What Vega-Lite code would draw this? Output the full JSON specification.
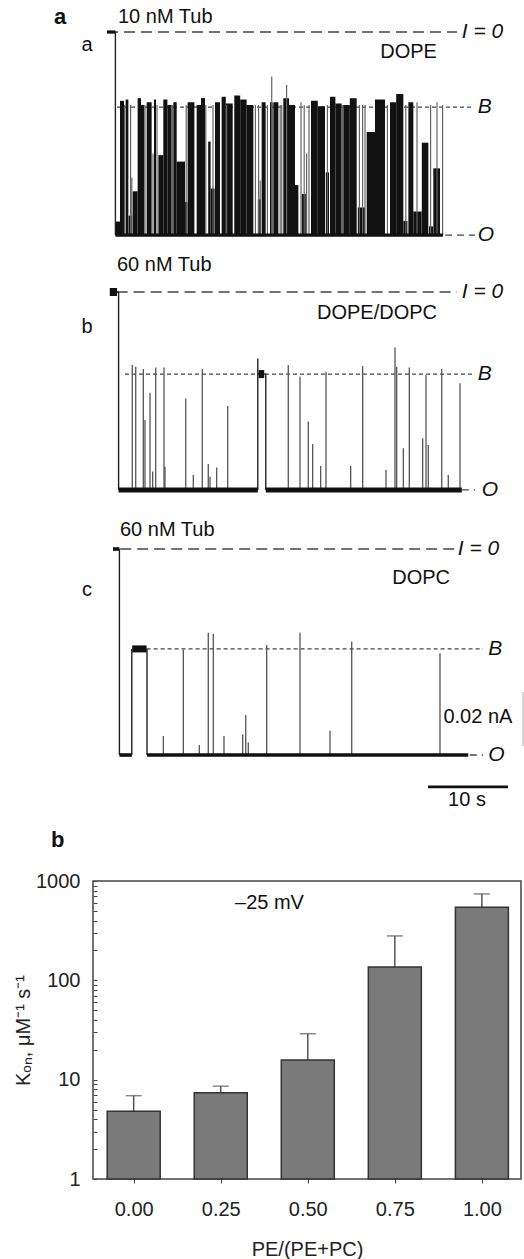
{
"$schema": "https://vega.github.io/schema/vega-lite/v6.json",
"background": "white",
"padding": 0,
"config": {"font": "Liberation Sans", "view": {"stroke": null}},
"spacing": 0,
"bounds": "flush",
"datasets": {
"refs": [
{"tr":"A","k":"I0","t1":-0.75,"t2":43,"v":0},
{"tr":"A","k":"B","t1":0.5,"t2":45,"v":-27.8},
{"tr":"A","k":"O","t1":41.5,"t2":45.25,"v":-75.2},
{"tr":"B","k":"I0","t1":0.45,"t2":43,"v":0},
{"tr":"B","k":"B","t1":1.5,"t2":45.25,"v":-30.4},
{"tr":"B","k":"O","t1":43.6,"t2":45.25,"v":-73.3},
{"tr":"C","k":"I0","t1":0.9,"t2":43,"v":0},
{"tr":"C","k":"B","t1":4.2,"t2":46.25,"v":-37},
{"tr":"C","k":"O","t1":44.6,"t2":46.25,"v":-76.3}
],
"blk": [
{"t1":0.375,"t2":0.875,"top":-70.2},{"t1":0.875,"t2":1.375,"top":-25.5},{"t1":1.58,"t2":1.92,"top":-25},
{"t1":1.95,"t2":2.4,"top":-68},
{"t1":2.46,"t2":3.08,"top":-59},{"t1":3.08,"t2":3.5,"top":-24.5},{"t1":3.5,"t2":3.92,"top":-27},{"t1":4.21,"t2":4.83,"top":-26},
{"t1":5.125,"t2":5.375,"top":-25},{"t1":5.67,"t2":6.29,"top":-45.6},{"t1":6.29,"t2":6.8,"top":-25},{"t1":6.8,"t2":7.33,"top":-27},
{"t1":7.54,"t2":7.96,"top":-26},{"t1":7.96,"t2":9.0,"top":-48},{"t1":9.0,"t2":9.3,"top":-63},{"t1":9.33,"t2":10.17,"top":-26},
{"t1":10.46,"t2":11.0,"top":-27},{"t1":11.0,"t2":11.5,"top":-24.5},{"t1":11.9,"t2":12.2,"top":-40.6},{"t1":12.2,"t2":12.7,"top":-58},{"t1":12.75,"t2":13.375,"top":-26},
{"t1":13.58,"t2":14.1,"top":-24},{"t1":14.1,"t2":14.96,"top":-26.5},
{"t1":15.16,"t2":15.9,"top":-23.5},{"t1":15.9,"t2":16.7,"top":-25},{"t1":16.7,"t2":17.54,"top":-27},
{"t1":18.1,"t2":18.5,"top":-62},{"t1":18.58,"t2":19.08,"top":-26},
{"t1":19.625,"t2":19.95,"top":-26},{"t1":20.04,"t2":20.67,"top":-26},{"t1":21.29,"t2":22.0,"top":-24.5},{"t1":22.0,"t2":22.75,"top":-27},
{"t1":22.75,"t2":23.17,"top":-56.7},{"t1":23.6,"t2":24.1,"top":-60},{"t1":24.75,"t2":25.6,"top":-25.5},{"t1":25.6,"t2":26.5,"top":-27.5},
{"t1":26.6,"t2":27.0,"top":-52},{"t1":27.125,"t2":27.8,"top":-24},{"t1":27.8,"t2":28.58,"top":-26.5},
{"t1":28.79,"t2":29.6,"top":-27},{"t1":29.6,"t2":30.46,"top":-24.5},{"t1":30.6,"t2":31.5,"top":-65},
{"t1":31.71,"t2":32.75,"top":-37},{"t1":32.75,"t2":34.0,"top":-25},
{"t1":34.625,"t2":35.4,"top":-26},{"t1":35.4,"t2":36.29,"top":-23},{"t1":36.3,"t2":36.8,"top":-70},{"t1":36.92,"t2":37.54,"top":-26},{"t1":37.54,"t2":38.58,"top":-66.5},
{"t1":38.6,"t2":39.42,"top":-41},{"t1":39.5,"t2":40.0,"top":-72},{"t1":40.04,"t2":40.875,"top":-50.5}
],
"spk": [
{"tr":"A","t":1.45,"top":-27},{"tr":"A","t":2.2,"top":-27},{"tr":"A","t":2.35,"top":-54},{"tr":"A","t":4.0,"top":-27},
{"tr":"A","t":5.0,"top":-45},{"tr":"A","t":5.5,"top":-27},{"tr":"A","t":7.45,"top":-27},{"tr":"A","t":9.15,"top":-27},
{"tr":"A","t":11.6,"top":-27},{"tr":"A","t":12.5,"top":-27},{"tr":"A","t":14.2,"top":-27},{"tr":"A","t":17.8,"top":-27},
{"tr":"A","t":18.2,"top":-27},{"tr":"A","t":18.4,"top":-55},{"tr":"A","t":19.3,"top":-27},{"tr":"A","t":19.84,"top":-16.5},
{"tr":"A","t":20.9,"top":-27},{"tr":"A","t":21.1,"top":-27},{"tr":"A","t":21.7,"top":-19.6},{"tr":"A","t":23.5,"top":-26},
{"tr":"A","t":23.9,"top":-27},{"tr":"A","t":24.2,"top":-45},{"tr":"A","t":24.5,"top":-27},{"tr":"A","t":26.8,"top":-27},
{"tr":"A","t":28.7,"top":-27},{"tr":"A","t":30.8,"top":-27},{"tr":"A","t":31.2,"top":-27},{"tr":"A","t":31.5,"top":-27},
{"tr":"A","t":34.3,"top":-27},{"tr":"A","t":36.6,"top":-27},{"tr":"A","t":38.0,"top":-26},{"tr":"A","t":39.7,"top":-27},
{"tr":"A","t":40.5,"top":-26},{"tr":"A","t":41.2,"top":-27},
{"tr":"B","t":2.41,"top":-27.0},{"tr":"B","t":2.84,"top":-27.7},{"tr":"B","t":3.79,"top":-28.5},{"tr":"B","t":4.0,"top":-47.4},
{"tr":"B","t":4.625,"top":-37.3},{"tr":"B","t":4.96,"top":-66.5},{"tr":"B","t":5.34,"top":-28.0},{"tr":"B","t":6.375,"top":-28.0},
{"tr":"B","t":6.5,"top":-64.7},{"tr":"B","t":9.09,"top":-39.4},{"tr":"B","t":10.04,"top":-67.8},{"tr":"B","t":11.16,"top":-28.5},
{"tr":"B","t":11.91,"top":-63.7},{"tr":"B","t":12.125,"top":-68.4},{"tr":"B","t":12.96,"top":-65},{"tr":"B","t":14.34,"top":-42.2},
{"tr":"B","t":21.91,"top":-27},{"tr":"B","t":23.375,"top":-31.4},{"tr":"B","t":24.41,"top":-48},{"tr":"B","t":24.96,"top":-56.3},
{"tr":"B","t":25.96,"top":-64.4},{"tr":"B","t":26.625,"top":-29.5},{"tr":"B","t":29.71,"top":-64.4},{"tr":"B","t":31.21,"top":-27.4},
{"tr":"B","t":34.125,"top":-65.9},{"tr":"B","t":35.25,"top":-20.6},{"tr":"B","t":35.46,"top":-27.7},{"tr":"B","t":36.29,"top":-57.9},
{"tr":"B","t":37.04,"top":-28},{"tr":"B","t":38.71,"top":-54.2},{"tr":"B","t":39.125,"top":-30.7},{"tr":"B","t":39.41,"top":-56.7},
{"tr":"B","t":41.09,"top":-28.5},{"tr":"B","t":41.91,"top":-67.8},{"tr":"B","t":43.375,"top":-33.8},
{"tr":"C","t":6.29,"top":-69.3},{"tr":"C","t":8.79,"top":-37.2},{"tr":"C","t":10.79,"top":-72.6},{"tr":"C","t":11.91,"top":-31.0},
{"tr":"C","t":12.54,"top":-31.4},{"tr":"C","t":13.875,"top":-69.3},{"tr":"C","t":16.21,"top":-68.7},{"tr":"C","t":16.59,"top":-61.5},
{"tr":"C","t":16.91,"top":-71.7},{"tr":"C","t":19.21,"top":-35.6},{"tr":"C","t":23.375,"top":-31.0},{"tr":"C","t":27.125,"top":-67.3},
{"tr":"C","t":29.84,"top":-34.3},{"tr":"C","t":40.875,"top":-38.6}
],
"segs": [
{"tr":"A","k":"base","t1":-0.75,"t2":0.3,"v1":0,"v2":0},
{"tr":"A","k":"thin","t1":0.3,"t2":0.3,"v1":0,"v2":-75.2},
{"tr":"A","k":"base","t1":0.3,"t2":41.25,"v1":-75.2,"v2":-75.2},
{"tr":"B","k":"blob","t1":-0.4,"t2":0.5,"v1":0,"v2":0},
{"tr":"B","k":"thin","t1":0.5,"t2":0.7,"v1":0,"v2":0},
{"tr":"B","k":"thin","t1":0.7,"t2":0.7,"v1":0,"v2":-73.3},
{"tr":"B","k":"base","t1":0.7,"t2":18.1,"v1":-73.3,"v2":-73.3},
{"tr":"B","k":"thin","t1":18.1,"t2":18.1,"v1":-73.3,"v2":-24.6},
{"tr":"B","k":"thin","t1":18.1,"t2":19.1,"v1":-30.4,"v2":-30.4},
{"tr":"B","k":"blob","t1":18.2,"t2":18.9,"v1":-30.4,"v2":-30.4},
{"tr":"B","k":"thin","t1":19.1,"t2":19.1,"v1":-30.4,"v2":-73.3},
{"tr":"B","k":"base","t1":19.1,"t2":43.6,"v1":-73.3,"v2":-73.3},
{"tr":"C","k":"base","t1":0,"t2":0.8,"v1":0,"v2":0},
{"tr":"C","k":"thin","t1":0.8,"t2":0.8,"v1":0,"v2":-76.3},
{"tr":"C","k":"base","t1":0.8,"t2":2.35,"v1":-76.3,"v2":-76.3},
{"tr":"C","k":"thin","t1":2.35,"t2":2.35,"v1":-76.3,"v2":-37},
{"tr":"C","k":"blob","t1":2.4,"t2":4.2,"v1":-37,"v2":-37},
{"tr":"C","k":"thin","t1":4.25,"t2":4.25,"v1":-37,"v2":-76.3},
{"tr":"C","k":"base","t1":4.25,"t2":44.4,"v1":-76.3,"v2":-76.3},
{"tr":"C","k":"bar","t1":39.375,"t2":49.375,"v1":-88.1,"v2":-88.1},
{"tr":"C","k":"faint","t1":51.25,"t2":51.25,"v1":-53,"v2":-73}
],
"notes": [
{"tr":"A","role":"panel","t":-6.6,"v":5.7,"txt":"a"},
{"tr":"A","role":"small","t":-3.25,"v":-4.8,"txt":"a"},
{"tr":"A","role":"note","t":0.625,"v":5.6,"txt":"10 nM Tub"},
{"tr":"A","role":"note","t":33.4,"v":-7.4,"txt":"DOPE"},
{"tr":"A","role":"lvl","t":43.6,"v":0,"txt":"I = 0"},
{"tr":"A","role":"lvl","t":45.6,"v":-27.8,"txt":"B"},
{"tr":"A","role":"lvl","t":45.6,"v":-75.2,"txt":"O"},
{"tr":"B","role":"small","t":-3.25,"v":-13.0,"txt":"b"},
{"tr":"B","role":"note","t":0.5,"v":10,"txt":"60 nM Tub"},
{"tr":"B","role":"note","t":25.5,"v":-7.8,"txt":"DOPE/DOPC"},
{"tr":"B","role":"lvl","t":43.6,"v":0,"txt":"I = 0"},
{"tr":"B","role":"lvl","t":45.6,"v":-30.4,"txt":"B"},
{"tr":"B","role":"lvl","t":46.1,"v":-73.3,"txt":"O"},
{"tr":"C","role":"small","t":-3.25,"v":-15.2,"txt":"c"},
{"tr":"C","role":"note","t":0.875,"v":7.0,"txt":"60 nM Tub"},
{"tr":"C","role":"note","t":34.9,"v":-10.7,"txt":"DOPC"},
{"tr":"C","role":"lvl","t":43.1,"v":0,"txt":"I = 0"},
{"tr":"C","role":"lvl","t":46.9,"v":-37,"txt":"B"},
{"tr":"C","role":"lvl","t":46.9,"v":-76.3,"txt":"O"},
{"tr":"C","role":"note","t":41.3,"v":-62.1,"txt":"0.02 nA"},
{"tr":"C","role":"small","t":44.25,"v":-93.0,"txt":"10 s"},
{"tr":"C","role":"panel","t":-6.9,"v":-107.8,"txt":"b"}
],
"kon": [
{"pe":0,"k":4.8,"err":6.9},
{"pe":0.25,"k":7.4,"err":8.6},
{"pe":0.5,"k":15.8,"err":29},
{"pe":0.75,"k":136,"err":280},
{"pe":1,"k":545,"err":741}
],
"konnote": [{"pe":0.39,"k":600,"txt":"–25 mV"}]
},
"vconcat": [
{
"width": 524, "height": 255, "view": {"stroke": null},
"layer": [
{"data":{"name":"refs"},"transform":[{"filter":"datum.tr=='A'"}],"mark":{"type":"rule","color":"#444","strokeWidth":1.3},
"encoding":{"x":{"field":"t1","type":"quantitative","scale":{"domain":[-14.125,51.375],"nice":false,"zero":false},"axis":null},"x2":{"field":"t2"},
"y":{"field":"v","type":"quantitative","scale":{"domain":[-82.593,11.852],"nice":false,"zero":false},"axis":null},
"strokeDash":{"field":"k","type":"nominal","scale":{"domain":["I0","B","O"],"range":[[11,6],[4,3],[7,5]]},"legend":null}}},
{"data":{"name":"blk"},"mark":{"type":"rect","color":"#111"},
"encoding":{"x":{"field":"t1","type":"quantitative","scale":{"domain":[-14.125,51.375],"nice":false,"zero":false},"axis":null},"x2":{"field":"t2"},
"y":{"field":"top","type":"quantitative","scale":{"domain":[-82.593,11.852],"nice":false,"zero":false},"axis":null},"y2":{"datum":-75.2}}},
{"data":{"name":"spk"},"transform":[{"filter":"datum.tr=='A'"}],"mark":{"type":"rule","color":"#666","strokeWidth":1.2},
"encoding":{"x":{"field":"t","type":"quantitative","scale":{"domain":[-14.125,51.375],"nice":false,"zero":false},"axis":null},
"y":{"field":"top","type":"quantitative","scale":{"domain":[-82.593,11.852],"nice":false,"zero":false},"axis":null},"y2":{"datum":-75.2}}},
{"data":{"name":"segs"},"transform":[{"filter":"datum.tr=='A' && datum.k=='thin'"}],"mark":{"type":"rule","color":"#222","strokeWidth":1.4},
"encoding":{"x":{"field":"t1","type":"quantitative","scale":{"domain":[-14.125,51.375],"nice":false,"zero":false},"axis":null},"x2":{"field":"t2"},
"y":{"field":"v1","type":"quantitative","scale":{"domain":[-82.593,11.852],"nice":false,"zero":false},"axis":null},"y2":{"field":"v2"}}},
{"data":{"name":"segs"},"transform":[{"filter":"datum.tr=='A' && datum.k=='base'"}],"mark":{"type":"rule","color":"#111","strokeWidth":3.2},
"encoding":{"x":{"field":"t1","type":"quantitative","scale":{"domain":[-14.125,51.375],"nice":false,"zero":false},"axis":null},"x2":{"field":"t2"},
"y":{"field":"v1","type":"quantitative","scale":{"domain":[-82.593,11.852],"nice":false,"zero":false},"axis":null},"y2":{"field":"v2"}}},
{"data":{"name":"notes"},"transform":[{"filter":"datum.tr=='A' && datum.role=='note'"}],"mark":{"type":"text","align":"left","baseline":"middle","fontSize":20,"color":"#111"},
"encoding":{"x":{"field":"t","type":"quantitative","scale":{"domain":[-14.125,51.375],"nice":false,"zero":false},"axis":null},
"y":{"field":"v","type":"quantitative","scale":{"domain":[-82.593,11.852],"nice":false,"zero":false},"axis":null},"text":{"field":"txt"}}},
{"data":{"name":"notes"},"transform":[{"filter":"datum.tr=='A' && datum.role=='small'"}],"mark":{"type":"text","align":"center","baseline":"middle","fontSize":20,"color":"#111"},
"encoding":{"x":{"field":"t","type":"quantitative","scale":{"domain":[-14.125,51.375],"nice":false,"zero":false},"axis":null},
"y":{"field":"v","type":"quantitative","scale":{"domain":[-82.593,11.852],"nice":false,"zero":false},"axis":null},"text":{"field":"txt"}}},
{"data":{"name":"notes"},"transform":[{"filter":"datum.tr=='A' && datum.role=='lvl'"}],"mark":{"type":"text","align":"left","baseline":"middle","fontSize":21,"fontStyle":"italic","color":"#111"},
"encoding":{"x":{"field":"t","type":"quantitative","scale":{"domain":[-14.125,51.375],"nice":false,"zero":false},"axis":null},
"y":{"field":"v","type":"quantitative","scale":{"domain":[-82.593,11.852],"nice":false,"zero":false},"axis":null},"text":{"field":"txt"}}},
{"data":{"name":"notes"},"transform":[{"filter":"datum.tr=='A' && datum.role=='panel'"}],"mark":{"type":"text","align":"center","baseline":"middle","fontSize":22,"fontWeight":"bold","color":"#111"},
"encoding":{"x":{"field":"t","type":"quantitative","scale":{"domain":[-14.125,51.375],"nice":false,"zero":false},"axis":null},
"y":{"field":"v","type":"quantitative","scale":{"domain":[-82.593,11.852],"nice":false,"zero":false},"axis":null},"text":{"field":"txt"}}}
]
},
{
"width": 524, "height": 260, "view": {"stroke": null},
"layer": [
{"data":{"name":"refs"},"transform":[{"filter":"datum.tr=='B'"}],"mark":{"type":"rule","color":"#444","strokeWidth":1.3},
"encoding":{"x":{"field":"t1","type":"quantitative","scale":{"domain":[-14.125,51.375],"nice":false,"zero":false},"axis":null},"x2":{"field":"t2"},
"y":{"field":"v","type":"quantitative","scale":{"domain":[-82.593,13.704],"nice":false,"zero":false},"axis":null},
"strokeDash":{"field":"k","type":"nominal","scale":{"domain":["I0","B","O"],"range":[[11,6],[4,3],[7,5]]},"legend":null}}},
{"data":{"name":"spk"},"transform":[{"filter":"datum.tr=='B'"}],"mark":{"type":"rule","color":"#555","strokeWidth":1.3},
"encoding":{"x":{"field":"t","type":"quantitative","scale":{"domain":[-14.125,51.375],"nice":false,"zero":false},"axis":null},
"y":{"field":"top","type":"quantitative","scale":{"domain":[-82.593,13.704],"nice":false,"zero":false},"axis":null},"y2":{"datum":-73.3}}},
{"data":{"name":"segs"},"transform":[{"filter":"datum.tr=='B' && datum.k=='thin'"}],"mark":{"type":"rule","color":"#222","strokeWidth":1.4},
"encoding":{"x":{"field":"t1","type":"quantitative","scale":{"domain":[-14.125,51.375],"nice":false,"zero":false},"axis":null},"x2":{"field":"t2"},
"y":{"field":"v1","type":"quantitative","scale":{"domain":[-82.593,13.704],"nice":false,"zero":false},"axis":null},"y2":{"field":"v2"}}},
{"data":{"name":"segs"},"transform":[{"filter":"datum.tr=='B' && datum.k=='base'"}],"mark":{"type":"rule","color":"#111","strokeWidth":5},
"encoding":{"x":{"field":"t1","type":"quantitative","scale":{"domain":[-14.125,51.375],"nice":false,"zero":false},"axis":null},"x2":{"field":"t2"},
"y":{"field":"v1","type":"quantitative","scale":{"domain":[-82.593,13.704],"nice":false,"zero":false},"axis":null},"y2":{"field":"v2"}}},
{"data":{"name":"segs"},"transform":[{"filter":"datum.tr=='B' && datum.k=='blob'"}],"mark":{"type":"rule","color":"#111","strokeWidth":8},
"encoding":{"x":{"field":"t1","type":"quantitative","scale":{"domain":[-14.125,51.375],"nice":false,"zero":false},"axis":null},"x2":{"field":"t2"},
"y":{"field":"v1","type":"quantitative","scale":{"domain":[-82.593,13.704],"nice":false,"zero":false},"axis":null},"y2":{"field":"v2"}}},
{"data":{"name":"notes"},"transform":[{"filter":"datum.tr=='B' && datum.role=='note'"}],"mark":{"type":"text","align":"left","baseline":"middle","fontSize":20,"color":"#111"},
"encoding":{"x":{"field":"t","type":"quantitative","scale":{"domain":[-14.125,51.375],"nice":false,"zero":false},"axis":null},
"y":{"field":"v","type":"quantitative","scale":{"domain":[-82.593,13.704],"nice":false,"zero":false},"axis":null},"text":{"field":"txt"}}},
{"data":{"name":"notes"},"transform":[{"filter":"datum.tr=='B' && datum.role=='small'"}],"mark":{"type":"text","align":"center","baseline":"middle","fontSize":20,"color":"#111"},
"encoding":{"x":{"field":"t","type":"quantitative","scale":{"domain":[-14.125,51.375],"nice":false,"zero":false},"axis":null},
"y":{"field":"v","type":"quantitative","scale":{"domain":[-82.593,13.704],"nice":false,"zero":false},"axis":null},"text":{"field":"txt"}}},
{"data":{"name":"notes"},"transform":[{"filter":"datum.tr=='B' && datum.role=='lvl'"}],"mark":{"type":"text","align":"left","baseline":"middle","fontSize":21,"fontStyle":"italic","color":"#111"},
"encoding":{"x":{"field":"t","type":"quantitative","scale":{"domain":[-14.125,51.375],"nice":false,"zero":false},"axis":null},
"y":{"field":"v","type":"quantitative","scale":{"domain":[-82.593,13.704],"nice":false,"zero":false},"axis":null},"text":{"field":"txt"}}}
]
},
{
"width": 524, "height": 366, "view": {"stroke": null},
"layer": [
{"data":{"name":"refs"},"transform":[{"filter":"datum.tr=='C'"}],"mark":{"type":"rule","color":"#444","strokeWidth":1.3},
"encoding":{"x":{"field":"t1","type":"quantitative","scale":{"domain":[-14.125,51.375],"nice":false,"zero":false},"axis":null},"x2":{"field":"t2"},
"y":{"field":"v","type":"quantitative","scale":{"domain":[-122.963,12.593],"nice":false,"zero":false},"axis":null},
"strokeDash":{"field":"k","type":"nominal","scale":{"domain":["I0","B","O"],"range":[[11,6],[4,3],[7,5]]},"legend":null}}},
{"data":{"name":"spk"},"transform":[{"filter":"datum.tr=='C'"}],"mark":{"type":"rule","color":"#555","strokeWidth":1.3},
"encoding":{"x":{"field":"t","type":"quantitative","scale":{"domain":[-14.125,51.375],"nice":false,"zero":false},"axis":null},
"y":{"field":"top","type":"quantitative","scale":{"domain":[-122.963,12.593],"nice":false,"zero":false},"axis":null},"y2":{"datum":-76.3}}},
{"data":{"name":"segs"},"transform":[{"filter":"datum.tr=='C' && datum.k=='thin'"}],"mark":{"type":"rule","color":"#222","strokeWidth":1.4},
"encoding":{"x":{"field":"t1","type":"quantitative","scale":{"domain":[-14.125,51.375],"nice":false,"zero":false},"axis":null},"x2":{"field":"t2"},
"y":{"field":"v1","type":"quantitative","scale":{"domain":[-122.963,12.593],"nice":false,"zero":false},"axis":null},"y2":{"field":"v2"}}},
{"data":{"name":"segs"},"transform":[{"filter":"datum.tr=='C' && datum.k=='base'"}],"mark":{"type":"rule","color":"#111","strokeWidth":3.6},
"encoding":{"x":{"field":"t1","type":"quantitative","scale":{"domain":[-14.125,51.375],"nice":false,"zero":false},"axis":null},"x2":{"field":"t2"},
"y":{"field":"v1","type":"quantitative","scale":{"domain":[-122.963,12.593],"nice":false,"zero":false},"axis":null},"y2":{"field":"v2"}}},
{"data":{"name":"segs"},"transform":[{"filter":"datum.tr=='C' && datum.k=='blob'"}],"mark":{"type":"rule","color":"#111","strokeWidth":7},
"encoding":{"x":{"field":"t1","type":"quantitative","scale":{"domain":[-14.125,51.375],"nice":false,"zero":false},"axis":null},"x2":{"field":"t2"},
"y":{"field":"v1","type":"quantitative","scale":{"domain":[-122.963,12.593],"nice":false,"zero":false},"axis":null},"y2":{"field":"v2"}}},
{"data":{"name":"segs"},"transform":[{"filter":"datum.tr=='C' && datum.k=='bar'"}],"mark":{"type":"rule","color":"#111","strokeWidth":2.6},
"encoding":{"x":{"field":"t1","type":"quantitative","scale":{"domain":[-14.125,51.375],"nice":false,"zero":false},"axis":null},"x2":{"field":"t2"},
"y":{"field":"v1","type":"quantitative","scale":{"domain":[-122.963,12.593],"nice":false,"zero":false},"axis":null},"y2":{"field":"v2"}}},
{"data":{"name":"segs"},"transform":[{"filter":"datum.tr=='C' && datum.k=='faint'"}],"mark":{"type":"rule","color":"#bbbbbb","strokeWidth":1.2},
"encoding":{"x":{"field":"t1","type":"quantitative","scale":{"domain":[-14.125,51.375],"nice":false,"zero":false},"axis":null},"x2":{"field":"t2"},
"y":{"field":"v1","type":"quantitative","scale":{"domain":[-122.963,12.593],"nice":false,"zero":false},"axis":null},"y2":{"field":"v2"}}},
{"data":{"name":"notes"},"transform":[{"filter":"datum.tr=='C' && datum.role=='note'"}],"mark":{"type":"text","align":"left","baseline":"middle","fontSize":20,"color":"#111"},
"encoding":{"x":{"field":"t","type":"quantitative","scale":{"domain":[-14.125,51.375],"nice":false,"zero":false},"axis":null},
"y":{"field":"v","type":"quantitative","scale":{"domain":[-122.963,12.593],"nice":false,"zero":false},"axis":null},"text":{"field":"txt"}}},
{"data":{"name":"notes"},"transform":[{"filter":"datum.tr=='C' && datum.role=='small'"}],"mark":{"type":"text","align":"center","baseline":"middle","fontSize":20,"color":"#111"},
"encoding":{"x":{"field":"t","type":"quantitative","scale":{"domain":[-14.125,51.375],"nice":false,"zero":false},"axis":null},
"y":{"field":"v","type":"quantitative","scale":{"domain":[-122.963,12.593],"nice":false,"zero":false},"axis":null},"text":{"field":"txt"}}},
{"data":{"name":"notes"},"transform":[{"filter":"datum.tr=='C' && datum.role=='lvl'"}],"mark":{"type":"text","align":"left","baseline":"middle","fontSize":21,"fontStyle":"italic","color":"#111"},
"encoding":{"x":{"field":"t","type":"quantitative","scale":{"domain":[-14.125,51.375],"nice":false,"zero":false},"axis":null},
"y":{"field":"v","type":"quantitative","scale":{"domain":[-122.963,12.593],"nice":false,"zero":false},"axis":null},"text":{"field":"txt"}}},
{"data":{"name":"notes"},"transform":[{"filter":"datum.tr=='C' && datum.role=='panel'"}],"mark":{"type":"text","align":"center","baseline":"middle","fontSize":22,"fontWeight":"bold","color":"#111"},
"encoding":{"x":{"field":"t","type":"quantitative","scale":{"domain":[-14.125,51.375],"nice":false,"zero":false},"axis":null},
"y":{"field":"v","type":"quantitative","scale":{"domain":[-122.963,12.593],"nice":false,"zero":false},"axis":null},"text":{"field":"txt"}}}
]
},
{
"spacing": 0,
"bounds": "flush",
"hconcat": [
{"width": 93, "height": 298, "view": {"stroke": null}, "data": {"values": [{"s": ""}]}, "mark": "text", "encoding": {"text": {"field": "s"}}},
{
"width": 428, "height": 298,
"view": {"stroke": "#444", "strokeWidth": 1.5},
"data": {"name": "kon"},
"layer": [
{"mark": {"type": "rule", "color": "#555", "strokeWidth": 1.5},
"encoding": {"x": {"field": "pe", "type": "quantitative", "scale": {"domain": [-0.1025, 1.098], "nice": false, "zero": false}},
"y": {"field": "k", "type": "quantitative", "scale": {"type": "log", "domain": [1, 1000], "nice": false}}, "y2": {"field": "err"}}},
{"mark": {"type": "tick", "orient": "horizontal", "size": 16, "thickness": 1.5, "color": "#555"},
"encoding": {"x": {"field": "pe", "type": "quantitative"}, "y": {"field": "err", "type": "quantitative"}}},
{"mark": {"type": "bar", "width": 53, "fill": "#7a7a7a", "stroke": "#333", "strokeWidth": 1.5},
"encoding": {
"x": {"field": "pe", "type": "quantitative", "scale": {"domain": [-0.1025, 1.098], "nice": false, "zero": false},
"axis": {"values": [0, 0.25, 0.5, 0.75, 1], "format": ".2f", "title": "PE/(PE+PC)", "grid": false, "domain": false, "tickSize": 4, "tickColor": "#444", "labelPadding": 16, "labelFontSize": 20, "labelColor": "#222", "titleFontSize": 20, "titleFontWeight": "normal", "titleColor": "#222", "titlePadding": 20, "labelFlush": false}},
"y": {"field": "k", "type": "quantitative", "scale": {"type": "log", "domain": [1, 1000], "nice": false},
"axis": {"values": [1,2,3,4,5,6,7,8,9,10,20,30,40,50,60,70,80,90,100,200,300,400,500,600,700,800,900,1000],
"labelExpr": "datum.value == 1 || datum.value == 10 || datum.value == 100 || datum.value == 1000 ? format(datum.value, 'd') : ''",
"title": "Kₒₙ, μM⁻¹ s⁻¹", "grid": false, "domain": false, "tickSize": -4, "tickColor": "#444", "labelPadding": 17, "labelFontSize": 20, "labelColor": "#222", "labelOverlap": false, "labelFlush": false, "titleFontSize": 20, "titleFontWeight": "normal", "titleColor": "#222", "titlePadding": 2}},
"y2": {"datum": 1}}},
{"data": {"name": "konnote"}, "mark": {"type": "text", "fontSize": 20, "align": "center", "baseline": "middle", "color": "#111"},
"encoding": {"x": {"field": "pe", "type": "quantitative"}, "y": {"field": "k", "type": "quantitative"}, "text": {"field": "txt"}}}
]
}
]
}
]
}
